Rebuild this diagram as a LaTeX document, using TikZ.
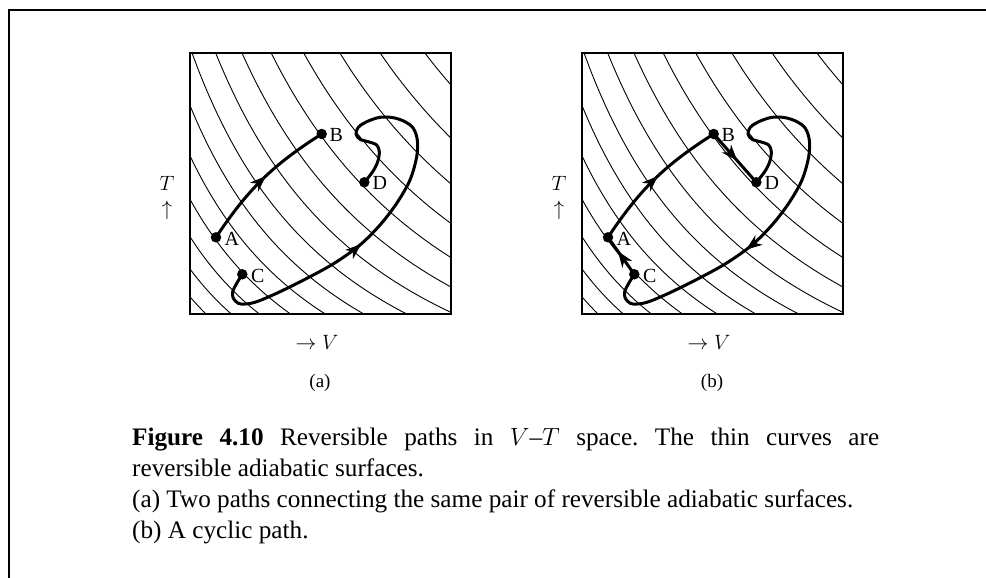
\documentclass[tikz,border=0pt]{standalone}
\usepackage{fontspec}
\setmainfont{Liberation Serif}
\usetikzlibrary{arrows.meta,decorations.markings}
\tikzset{
  outerframe/.style={line width=2pt},
  boxframe/.style={line width=1.3pt},
  adiabat/.style={line width=0.9pt},
  pathline/.style={line width=3pt, line join=round, line cap=round},
  dot/.style={circle, fill=black, inner sep=0pt, minimum size=10.5pt},
  lbl/.style={font=\fontsize{20}{24}\selectfont, inner sep=0pt},
  sublbl/.style={font=\fontsize{19}{22}\selectfont, inner sep=0pt},
  fwdarrow/.style={postaction={decorate}, decoration={markings, mark=at position #1 with {\arrow[line width=1pt]{Stealth[length=16pt,width=12pt,inset=5pt]}}}},
  revarrow/.style={postaction={decorate}, decoration={markings, mark=at position #1 with {\arrowreversed[line width=1pt]{Stealth[length=16pt,width=12pt,inset=5pt]}}}},
}
\begin{document}
\begin{tikzpicture}[x=1pt,y=-1pt]
\useasboundingbox (0,0) rectangle (986,578);
\draw[outerframe] (8.5,578) -- (8.5,10) -- (986,10);

% ---------- adiabats of panels (a) and (b) ----------
\foreach \sh in {0,392}{
  \begin{scope}[xshift=\sh pt]
    \begin{scope}
      \clip (190,53) rectangle (451,314);
      \foreach \i in {-7,...,8}{
        \draw[adiabat] plot[domain=0:261, samples=70, smooth]
          ({190+\x}, {472 - 419*exp(1.39*(5.3519 + 0.1062*\i - ln(\x+209)))});
      }
    \end{scope}
    \draw[boxframe] (190,53) rectangle (451,314);
  \end{scope}
}

% ---------- panel (a) ----------
\node[dot] (Aa) at (216,237.3) {};
\node[dot] (Ba) at (321.7,134) {};
\node[dot] (Ca) at (242.3,274.3) {};
\node[dot] (Da) at (364.3,182.3) {};
\node[lbl, anchor=west] (lAa) at (224.5,239) {A};
\node[lbl, anchor=west] (lBa) at (329.5,134.7) {B};
\node[lbl, anchor=west] (lCa) at (251,276) {C};
\node[lbl, anchor=west] (lDa) at (372.5,183) {D};
\draw[pathline, fwdarrow=0.53] (Aa.center) to[bend left=12] (Ba.center);
\draw[pathline, fwdarrow=0.39] plot[smooth, tension=0.55] coordinates {
  (Ca.center) (236.7,283.3) (232.7,291.7) (233.3,298.3) (238.3,303.3) (245,304)
  (256.7,301.7) (280,291.7) (313.3,275) (336.7,261.7) (360,245) (380,225)
  (396.7,203.3) (410,180) (416.7,156.7) (417.3,140) (413.3,128.3) (405,121.7)
  (393.3,117.7) (380,117.3) (366.7,121.7) (358.3,127.3) (356,134) (360,139.3)
  (368.3,141.7) (376.7,145) (379.3,151.7) (377.7,161.7) (372.7,171.7) (Da.center)};
\node[lbl] (Ta) at (167,183) {$T$};
\node[lbl] (Tua) at (167,210) {$\uparrow$};
\node[lbl] (Va) at (317,342) {$\rightarrow V$};
\node[sublbl] (capa) at (320,383) {(a)};

% ---------- panel (b) ----------
\begin{scope}[xshift=392pt]
\node[dot] (Ab) at (216,237.3) {};
\node[dot] (Bb) at (321.7,134) {};
\node[dot] (Cb) at (242.3,274.3) {};
\node[dot] (Db) at (364.3,182.3) {};
\node[lbl, anchor=west] (lAb) at (224.5,239) {A};
\node[lbl, anchor=west] (lBb) at (329.5,134.7) {B};
\node[lbl, anchor=west] (lCb) at (251,276) {C};
\node[lbl, anchor=west] (lDb) at (372.5,183) {D};
\draw[pathline, fwdarrow=0.53] (Ab.center) to[bend left=12] (Bb.center);
\draw[pathline, fwdarrow=0.55] (Bb.center) -- (Db.center);
\draw[pathline, fwdarrow=0.62] (Cb.center) -- (Ab.center);
\draw[pathline, revarrow=0.37] plot[smooth, tension=0.55] coordinates {
  (Cb.center) (236.7,283.3) (232.7,291.7) (233.3,298.3) (238.3,303.3) (245,304)
  (256.7,301.7) (280,291.7) (313.3,275) (336.7,261.7) (360,245) (380,225)
  (396.7,203.3) (410,180) (416.7,156.7) (417.3,140) (413.3,128.3) (405,121.7)
  (393.3,117.7) (380,117.3) (366.7,121.7) (358.3,127.3) (356,134) (360,139.3)
  (368.3,141.7) (376.7,145) (379.3,151.7) (377.7,161.7) (372.7,171.7) (Db.center)};
\node[lbl] (Tb) at (167,183) {$T$};
\node[lbl] (Tub) at (167,210) {$\uparrow$};
\node[lbl] (Vb) at (317,342) {$\rightarrow V$};
\node[sublbl] (capb) at (320,383) {(b)};
\end{scope}

% ---------- caption ----------
\node[anchor=north west, inner sep=0pt, text width=747pt, align=justify,
      font=\fontsize{25.2}{30.8}\selectfont] (caption) at (132,428)
{\frenchspacing\hyphenpenalty=10000 \textbf{Figure 4.10} Reversible paths in $V$–$T$ space. The thin curves are\linebreak
reversible adiabatic surfaces.\\
(a) Two paths connecting the same pair of reversible adiabatic surfaces.\\
(b) A cyclic path.};
\end{tikzpicture}
\end{document}
